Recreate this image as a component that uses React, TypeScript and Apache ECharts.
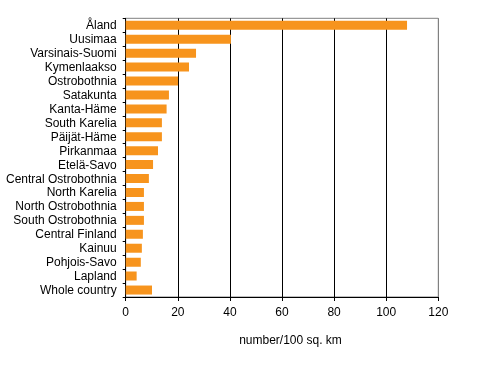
import React, { useEffect, useRef } from "react";
import * as echarts from "echarts";

const categories = [
  "Åland",
  "Uusimaa",
  "Varsinais-Suomi",
  "Kymenlaakso",
  "Ostrobothnia",
  "Satakunta",
  "Kanta-Häme",
  "South Karelia",
  "Päijät-Häme",
  "Pirkanmaa",
  "Etelä-Savo",
  "Central Ostrobothnia",
  "North Karelia",
  "North Ostrobothnia",
  "South Ostrobothnia",
  "Central Finland",
  "Kainuu",
  "Pohjois-Savo",
  "Lapland",
  "Whole country",
];

const values = [
  108.0, 40.4, 27.0, 24.3, 20.1, 16.6, 15.7, 13.9, 13.9, 12.4, 10.5, 8.9, 7.0,
  7.0, 7.0, 6.6, 6.2, 5.8, 4.2, 10.1,
];

const xTicks = [0, 20, 40, 60, 80, 100, 120];
const axisTitle = "number/100 sq. km";

export default function App() {
  const ref = useRef<HTMLDivElement>(null);
  useEffect(() => {
    if (!ref.current) return;
    const chart = echarts.init(ref.current, undefined, { renderer: "svg" });
    const font = "Arial, 'Liberation Sans', sans-serif";
    chart.setOption({
      animation: false,
      textStyle: { fontFamily: font },
      grid: {
        left: 125.7,
        right: 40.7,
        top: 18.3,
        bottom: 74,
        show: true,
        borderColor: "#808080",
        borderWidth: 1,
        backgroundColor: "transparent",
      },
      xAxis: {
        type: "value",
        min: xTicks[0],
        max: xTicks[xTicks.length - 1],
        interval: 20,
        axisLine: { show: true, lineStyle: { color: "#000", width: 1 } },
        axisTick: { show: true, length: 4, lineStyle: { color: "#000" } },
        axisLabel: {
          color: "#000",
          fontSize: 12,
          fontFamily: font,
          margin: 9,
        },
        splitLine: {
          show: true,
          lineStyle: {
            color: ["#000", "#000", "#000", "#000", "#000", "#000", "#808080"],
            width: 1,
          },
        },
      },
      yAxis: {
        type: "category",
        data: categories,
        inverse: true,
        axisLine: { show: true, lineStyle: { color: "#000", width: 1 } },
        axisTick: { show: true, length: 3, lineStyle: { color: "#000" } },
        axisLabel: {
          color: "#000",
          fontSize: 12,
          fontFamily: font,
          margin: 9,
          interval: 0,
        },
        splitLine: { show: false },
      },
      graphic: [
        {
          type: "text",
          x: 290.5,
          y: 340,
          style: {
            text: axisTitle,
            fontSize: 12,
            fontFamily: font,
            fill: "#000",
            align: "center",
            verticalAlign: "middle",
          },
        },
      ],
      series: [
        {
          type: "bar",
          data: values,
          barWidth: 9,
          itemStyle: { color: "#F7941D" },
          z: 3,
        },
      ],
    });
    return () => chart.dispose();
  }, []);
  return (
    <div
      ref={ref}
      style={{ position: "fixed", left: 0, top: 0, width: 479, height: 371 }}
    />
  );
}
